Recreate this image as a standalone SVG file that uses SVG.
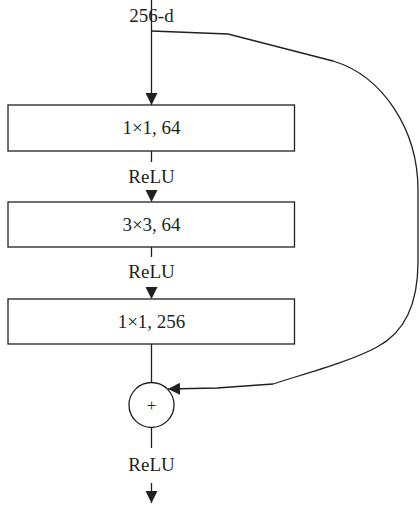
<svg xmlns="http://www.w3.org/2000/svg" width="420" height="506" viewBox="0 0 420 506">
<style>
.box{fill:#fff;stroke:#231f20;stroke-width:1.3}
.ln{fill:none;stroke:#231f20;stroke-width:1.3}
.t{font-family:"Liberation Serif","Times New Roman",serif;font-size:19px;fill:#231f20;text-anchor:middle}
.ah{fill:#231f20}
</style>
<defs>
<marker id="arr" viewBox="0 0 12 12" refX="12" refY="6" markerWidth="12" markerHeight="12" markerUnits="userSpaceOnUse" orient="auto">
<path d="M0,0 L12,6 L0,12 Z" class="ah"/>
</marker>
</defs>
<g id="connectors">
<line class="ln" x1="151.5" y1="0" x2="151.5" y2="105" marker-end="url(#arr)"/>
<line class="ln" x1="151.5" y1="151" x2="151.5" y2="162"/>
<polygon class="ah" points="145.5,190 157.5,190 151.5,202"/>
<line class="ln" x1="151.5" y1="247" x2="151.5" y2="257"/>
<polygon class="ah" points="145.5,287 157.5,287 151.5,299"/>
<line class="ln" x1="151.5" y1="344" x2="151.5" y2="382.5"/>
<line class="ln" x1="151.5" y1="427.5" x2="151.5" y2="448"/>
<line class="ln" x1="151.5" y1="483" x2="151.5" y2="503" marker-end="url(#arr)"/>
<path class="ln" d="M151.5,31 L228,34 L333,61 C383,76 418,130 418,190 L418,262 C418,310 400,335 377,347 C350,362 300,375 273,384 L217,388 L168,389" marker-end="url(#arr)"/>
</g>
<g id="input"><text class="t" x="151.5" y="22">256-d</text></g>
<g id="conv1"><rect class="box" x="8" y="105" width="286.5" height="46"/><text class="t" x="151.5" y="134">1×1, 64</text></g>
<g id="relu1"><text class="t" x="151.5" y="183">ReLU</text></g>
<g id="conv2"><rect class="box" x="8" y="202" width="286.5" height="45"/><text class="t" x="151.5" y="231">3×3, 64</text></g>
<g id="relu2"><text class="t" x="151.5" y="278">ReLU</text></g>
<g id="conv3"><rect class="box" x="8" y="299" width="286.5" height="45"/><text class="t" x="151.5" y="328">1×1, 256</text></g>
<g id="add"><circle class="box" cx="151.5" cy="405" r="22.5"/><text class="t" x="151.5" y="411" style="font-size:17px">+</text></g>
<g id="relu3"><text class="t" x="151.5" y="471">ReLU</text></g>
</svg>
